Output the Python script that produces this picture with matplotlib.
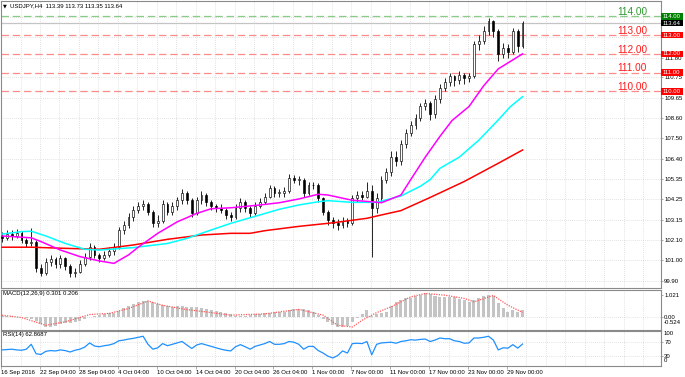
import numpy as np
import matplotlib.pyplot as plt
from matplotlib.patches import Rectangle

plt.rcParams['font.family'] = ['Liberation Sans', 'DejaVu Sans']

# =========================
# Data: USDJPY, 12h samples (16 Sep .. 29 Nov 2016)
# =========================
first_open = 102.3
closes = [102.2, 102.4, 102.3, 102.45, 102.1, 101.9, 102.0, 100.6, 100.3, 100.9,
          101.05, 100.8, 101.1, 100.7, 100.3, 100.4, 100.8, 101.2, 101.7, 101.3,
          101.1, 101.3, 101.5, 101.7, 102.6, 102.9, 103.3, 103.7, 103.9, 104.0,
          103.6, 103.0, 103.1, 104.0, 103.6, 103.9, 104.2, 104.6, 104.2, 103.5,
          104.2, 104.5, 104.1, 103.9, 103.8, 103.7, 103.4, 103.3, 103.8, 104.1,
          103.8, 103.5, 103.9, 104.1, 104.4, 104.85, 104.6, 104.6, 104.7, 105.4,
          105.3, 105.3, 104.6, 105.0, 105.0, 104.3, 103.6, 103.15, 103.0, 102.9,
          103.1, 103.0, 104.3, 104.5, 104.4, 104.7, 103.8, 104.3, 105.3, 105.7,
          106.5, 106.3, 107.2, 107.8, 108.2, 108.6, 109.2, 109.4, 108.8, 109.6,
          110.2, 110.5, 110.8, 110.6, 110.9, 110.7, 110.8, 112.5, 112.7, 113.2,
          113.75, 113.2, 112.0, 112.3, 112.1, 113.2, 112.4, 113.64]
highs = [102.5, 102.6, 102.6, 102.65, 102.55, 102.2, 102.75, 102.1, 100.8, 101.1,
         101.3, 101.2, 101.3, 101.2, 100.8, 100.6, 101.0, 101.4, 101.95, 101.8,
         101.4, 101.5, 101.7, 101.9, 102.8, 103.1, 103.5, 103.9, 104.1, 104.2,
         104.1, 103.7, 103.4, 104.2, 104.1, 104.1, 104.4, 104.8, 104.7, 104.3,
         104.4, 104.7, 104.6, 104.2, 104.0, 104.0, 103.8, 103.6, 104.0, 104.3,
         104.2, 103.9, 104.1, 104.3, 104.6, 105.0, 104.95, 104.8, 104.9, 105.6,
         105.55, 105.5, 105.4, 105.2, 105.2, 105.1, 104.4, 103.7, 103.3, 103.2,
         103.3, 103.25, 104.5, 104.7, 104.7, 105.15, 105.0, 104.6, 105.5, 105.9,
         106.8, 106.8, 107.4, 108.0, 108.4, 108.8, 109.4, 109.6, 109.5, 109.8,
         110.4, 110.7, 111.0, 110.9, 111.1, 111.0, 111.0, 112.7, 113.0, 113.5,
         113.9, 113.8, 113.3, 112.6, 112.5, 113.4, 113.3, 113.73]
lows = [102.0, 102.1, 102.1, 102.2, 101.9, 101.7, 101.75, 100.4, 100.15, 100.2,
        100.7, 100.6, 100.6, 100.5, 100.1, 100.1, 100.3, 100.7, 101.0, 101.1,
        100.9, 101.0, 101.2, 101.3, 101.6, 102.4, 102.7, 103.1, 103.5, 103.7,
        103.4, 102.8, 102.8, 103.0, 103.4, 103.4, 103.7, 104.0, 104.0, 103.3,
        103.4, 104.0, 103.9, 103.7, 103.6, 103.5, 103.2, 103.1, 103.2, 103.6,
        103.6, 103.3, 103.4, 103.8, 104.0, 104.3, 104.4, 104.4, 104.4, 104.6,
        105.1, 105.0, 104.4, 104.5, 104.8, 104.1, 103.4, 102.9, 102.7, 102.6,
        102.7, 102.8, 102.9, 104.1, 104.2, 104.3, 101.2, 103.5, 104.1, 105.1,
        105.5, 106.0, 106.1, 107.0, 107.6, 108.0, 108.4, 109.0, 108.5, 108.6,
        109.4, 110.0, 110.3, 110.3, 110.4, 110.4, 110.5, 110.7, 112.2, 112.5,
        113.0, 112.9, 111.6, 111.8, 111.8, 112.0, 112.1, 112.3]

# moving averages (sample index, price)
ma_fast_x = [0, 6, 8, 12, 16, 20, 23, 26, 28, 32, 36, 40, 43, 47, 53, 57, 61, 65,
             67, 72, 76, 78, 82, 84, 87, 90, 92.5, 96, 99, 102, 104.5, 107]
ma_fast = [102.3, 102.2, 102.0, 101.55, 101.2, 100.97, 100.84, 101.29, 101.7, 102.44,
           103.05, 103.5, 103.75, 103.8, 103.95, 104.07, 104.27, 104.52, 104.48, 104.2,
           104.12, 104.07, 104.48, 105.3, 106.5, 107.6, 108.45, 109.2, 110.3, 111.2,
           111.6, 112.0]
ma_mid_x = [0, 4, 6, 9, 13, 17, 20, 27, 34, 38, 42, 47, 53, 57, 61, 65, 67, 72, 77,
            82, 86, 88, 90, 94, 98, 102, 104.5, 107]
ma_mid = [102.4, 102.53, 102.55, 102.3, 101.9, 101.59, 101.55, 101.68, 101.9, 102.17,
          102.53, 102.97, 103.42, 103.72, 103.95, 104.12, 104.18, 104.09, 104.09, 104.43,
          104.95, 105.3, 105.9, 106.5, 107.4, 108.48, 109.19, 109.72]
ma_slow_x = [0, 6, 13, 20, 27, 34, 41, 47, 51, 54, 61, 68, 75, 78, 82, 88, 95, 102, 107]
ma_slow = [101.7, 101.7, 101.64, 101.59, 101.82, 102.12, 102.35, 102.44, 102.44, 102.58,
           102.81, 103.0, 103.24, 103.42, 103.65, 104.35, 105.2, 106.17, 106.88]

macd_hist = [0.05, 0.04, 0.02, 0.0, -0.02, -0.05, -0.08, -0.2, -0.35, -0.45,
             -0.47, -0.42, -0.35, -0.3, -0.28, -0.25, -0.2, -0.12, -0.02, 0.05,
             0.1, 0.15, 0.17, 0.2, 0.28, 0.4, 0.5, 0.6, 0.68, 0.75,
             0.76, 0.68, 0.6, 0.55, 0.5, 0.48, 0.5, 0.52, 0.45, 0.45,
             0.45, 0.42, 0.38, 0.33, 0.28, 0.25, 0.18, 0.12, 0.05, 0.02,
             0.05, 0.08, 0.12, 0.15, 0.18, 0.2, 0.22, 0.22, 0.25, 0.3,
             0.36, 0.39, 0.35, 0.3, 0.22, 0.08, -0.1, -0.25, -0.38, -0.45,
             -0.47, -0.42, -0.25, -0.05, 0.15, 0.3, 0.05, 0.15, 0.2, 0.25,
             0.5, 0.7, 0.8, 0.86, 0.9, 0.97, 1.02, 1.09, 1.05, 0.95,
             0.92, 0.93, 0.94, 0.92, 0.85, 0.78, 0.7, 0.78, 0.88, 0.96,
             1.01, 0.95, 0.65, 0.4, 0.25, 0.3, 0.22, 0.3]
macd_sig_x = [0, 4, 9, 13, 18, 22, 26, 30, 33, 38, 42, 47, 54, 61, 66, 69, 72, 74,
              77, 80, 84, 87, 91, 95, 97, 101, 104, 107]
macd_sig = [0.08, -0.03, -0.39, -0.23, 0.11, 0.16, 0.39, 0.74, 0.54, 0.34, 0.23, 0.08,
            0.14, 0.35, 0.08, -0.39, -0.47, -0.16, 0.2, 0.47, 0.93, 1.09, 1.01, 0.86,
            0.7, 1.0, 0.54, 0.21]

rsi = [46, 47, 48, 46, 45, 48, 62, 35, 33, 42,
       44, 43, 46, 44, 40, 45, 48, 54, 66, 57,
       55, 58, 60, 64, 72, 74, 77, 79, 82, 85,
       62, 48, 52, 64, 58, 62, 66, 70, 60, 50,
       60, 64, 60, 56, 52, 48, 45, 43, 55, 61,
       55, 48, 56, 60, 64, 70, 62, 62, 64, 70,
       68, 62, 48, 56, 56, 44, 37, 28, 23, 30,
       43, 37, 64, 65, 64, 70, 32, 62, 66, 67,
       68, 65, 70, 72, 75, 74, 76, 77, 70, 74,
       80, 78, 78, 72, 70, 65, 66, 80, 80, 82,
       85, 74, 46, 52, 51, 61, 51, 62.87]

date_labels = ["16 Sep 2016", "22 Sep 04:00", "28 Sep 04:00", "4 Oct 04:00",
               "10 Oct 04:00", "14 Oct 04:00", "20 Oct 04:00", "26 Oct 04:00",
               "1 Nov 00:00", "7 Nov 00:00", "11 Nov 00:00", "17 Nov 00:00",
               "23 Nov 00:00", "29 Nov 00:00"]
price_ticks = [99.90, 101.00, 102.10, 103.15, 104.25, 105.35, 106.40, 107.50,
               108.60, 109.65, 110.75, 111.80, 112.90, 113.95]
hidden_ticks = [112.90, 113.95]   # covered by the level boxes on the reference
levels = [114.0, 113.0, 112.0, 111.0, 110.0]
last_price = 113.64
header = "USDJPY,H4  113.39 113.73 113.35 113.64"

# =========================
# Layout (reference pixels)
# =========================
W, H = 685, 377
PX = 4.865          # pixels per sample
def px_box(l, t, r, b):
    return [l / W, (H - b) / H, (r - l) / W, (b - t) / H]

fig = plt.figure(figsize=(W / 100, H / 100), dpi=100)
ax = fig.add_axes(px_box(1, 1, 661, 288))
axm = fig.add_axes(px_box(1, 289.5, 661, 329.5), sharex=ax)
axr = fig.add_axes(px_box(1, 331, 661, 366), sharex=ax)

x_lo, x_hi = (1 - 2) / PX - 0.01, (661 - 2) / PX
ylo, yhi = 99.527, 114.817
ppp = 287 / (yhi - ylo)   # pixels per price unit

GRID = dict(color="#c8c8c8", lw=0.5, ls=(0, (1, 2)))
SPINE = "#8a8a8a"
FS = 4.3

grid_x = np.arange(0, 136, 4) - 0.2
for a in (ax, axm, axr):
    for g in grid_x:
        a.axvline(g, zorder=0, **GRID)
    for s in a.spines.values():
        s.set_color(SPINE)
        s.set_linewidth(0.8)
    a.yaxis.tick_right()
    a.tick_params(axis="y", labelsize=FS, length=1.5, pad=0.8, width=0.5, colors=SPINE,
                  labelcolor="black")
    a.tick_params(axis="x", bottom=False, labelbottom=False)

# =========================
# Main price panel
# =========================
idx = np.arange(len(closes))
c = np.array(closes)
o = np.array([first_open] + closes[:-1])
ax.vlines(idx, lows, highs, color="black", lw=0.6, zorder=2)
body_col = np.where(c >= o, "white", "black")
ax.bar(idx, np.maximum(np.abs(c - o), 0.02), bottom=np.minimum(o, c), width=0.38,
       color=body_col, edgecolor="black", lw=0.45, zorder=3)

ax.plot(ma_slow_x, ma_slow, color="#ff0000", lw=1.1, zorder=4)
ax.plot(ma_mid_x, ma_mid, color="#00ffff", lw=1.1, zorder=4)
ax.plot(ma_fast_x, ma_fast, color="#ff00ff", lw=1.1, zorder=4)

for p in price_ticks:
    ax.axhline(p, zorder=0, **GRID)
ax.axhline(last_price, color="#c4c4c4", lw=0.9, zorder=1)
lbl_x = (617 - 2) / PX
for lv in levels:
    col = "#88cc88" if lv == 114.0 else "#ff8c8c"
    tcol = "#2f9a2f" if lv == 114.0 else "#ff1a1a"
    ax.axhline(lv, color=col, lw=0.9, ls=(0, (6, 3)), zorder=1)
    ax.text(lbl_x, lv + 1.2 / ppp, f"{lv:.2f}", color=tcol, fontsize=7.2,
            ha="left", va="baseline", zorder=6)

ax.set_xlim(x_lo, x_hi)
ax.set_ylim(ylo, yhi)
ax.set_yticks(price_ticks)
ax.set_yticklabels(["" if p in hidden_ticks else f"{p:.2f}" for p in price_ticks])

# price boxes on the right scale
box_h = 6.5 / ppp
ytr = ax.get_yaxis_transform()
for lv, fc in [(l, "#008000" if l == 114.0 else "#ff0000") for l in levels] + [(last_price, "black")]:
    ax.add_patch(Rectangle((1.0, lv - box_h / 2), 22 / 660, box_h, transform=ytr,
                           fc=fc, ec="none", clip_on=False, zorder=7))
    ax.text(1.0 + 1.5 / 660, lv, f"{lv:.2f}", transform=ytr, color="white",
            fontsize=FS, ha="left", va="center", zorder=8, clip_on=False)

ax.text(2 / 660, 1 - 4.5 / 287, "\u25bc", transform=ax.transAxes, fontsize=3.6,
        ha="left", va="center", family=["DejaVu Sans"])
ax.text(8.5 / 660, 1 - 4.5 / 287, header, transform=ax.transAxes, fontsize=FS,
        ha="left", va="center")

# =========================
# MACD panel
# =========================
axm.bar(idx, macd_hist, width=0.62, color="#c4c4c4", zorder=2)
axm.plot(macd_sig_x, macd_sig, color="#ff5a5a", lw=0.9, ls=(0, (1, 1)), zorder=3)
axm.axhline(0, zorder=0, **GRID)
axm.set_ylim(-0.586, 1.274)
axm.set_yticks([1.021, 0.0])
axm.set_yticklabels(["1.021", "0.00"])
axm.text(1.0 + 2.5 / 660, -0.25, "-0.524", transform=axm.get_yaxis_transform(),
         fontsize=FS, ha="left", va="center", clip_on=False)
axm.text(2 / 660, 0.89, "MACD(12,26,9) 0.301 0.206", transform=axm.transAxes,
         fontsize=FS, ha="left", va="center")

# =========================
# RSI panel
# =========================
axr.plot(idx, rsi, color="#1e90ff", lw=0.9, zorder=3)
for lv in (70, 30):
    axr.axhline(lv, zorder=0, **GRID)
axr.set_ylim(0, 100)
axr.set_yticks([70, 30])
axr.set_yticklabels(["70", "30"])
ytr_r = axr.get_yaxis_transform()
axr.text(1.0 + 2.5 / 660, 94, "100", transform=ytr_r, fontsize=FS, ha="left",
         va="center", clip_on=False)
axr.text(1.0 + 2.5 / 660, 15, "0", transform=ytr_r, fontsize=FS, ha="left",
         va="center", clip_on=False)
axr.text(2 / 660, 0.886, "RSI(14) 62.8687", transform=axr.transAxes,
         fontsize=FS, ha="left", va="center")

date_pos = np.arange(len(date_labels)) * 8 - 0.2
axr.set_xticks(date_pos)
axr.set_xticklabels(date_labels, ha="left")
axr.tick_params(axis="x", bottom=True, labelbottom=True, labelsize=FS, length=2,
                pad=1, width=0.5, colors=SPINE, labelcolor="black")
axr.set_xlim(x_lo, x_hi)

fig.savefig("out.png", dpi=100)
